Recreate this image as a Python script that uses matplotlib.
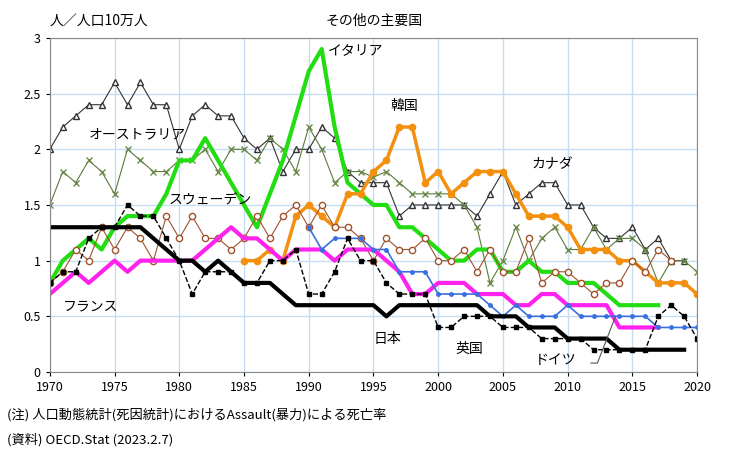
import numpy as np
import matplotlib.pyplot as plt

plt.rcParams['font.family'] = ['Noto Sans CJK JP', 'DejaVu Sans']

yrs = np.arange(1970, 2021)

canada = [2.0, 2.2, 2.3, 2.4, 2.4, 2.6, 2.4, 2.6, 2.4, 2.4, 2.0, 2.3, 2.4, 2.3, 2.3, 2.1, 2.0, 2.1, 1.8, 2.0,
          2.0, 2.2, 2.1, 1.8, 1.7, 1.7, 1.7, 1.4, 1.5, 1.5, 1.5, 1.5, 1.5, 1.4, 1.6, 1.8, 1.5, 1.6, 1.7, 1.7,
          1.5, 1.5, 1.3, 1.2, 1.2, 1.3, 1.1, 1.2, 1.0, 1.0]
australia = [1.5, 1.8, 1.7, 1.9, 1.8, 1.6, 2.0, 1.9, 1.8, 1.8, 1.9, 1.9, 2.0, 1.8, 2.0, 2.0, 1.9, 2.1, 2.0, 1.8,
             2.2, 2.0, 1.7, 1.8, 1.8, 1.75, 1.8, 1.7, 1.6, 1.6, 1.6, 1.6, 1.5, 1.3, 0.8, 1.0, 1.3, 1.0, 1.2, 1.3,
             1.1, 1.1, 1.3, 1.1, 1.2, 1.2, 1.1, 0.8, 1.0, 1.0, 0.9]
italy = [0.8, 1.0, 1.1, 1.2, 1.1, 1.3, 1.4, 1.4, 1.4, 1.6, 1.9, 1.9, 2.1, 1.9, 1.7, 1.5, 1.3, 1.6, 1.9, 2.3,
         2.7, 2.9, 2.2, 1.7, 1.6, 1.5, 1.5, 1.3, 1.3, 1.2, 1.1, 1.0, 1.0, 1.1, 1.1, 0.9, 0.9, 1.0, 0.9, 0.9,
         0.8, 0.8, 0.8, 0.7, 0.6, 0.6, 0.6, 0.6]
korea_yrs = np.arange(1985, 2021)
korea = [1.0, 1.0, 1.1, 1.0, 1.4, 1.5, 1.4, 1.3, 1.6, 1.6, 1.8, 1.9, 2.2, 2.2, 1.7, 1.8, 1.6, 1.7, 1.8, 1.8,
         1.8, 1.6, 1.4, 1.4, 1.4, 1.3, 1.1, 1.1, 1.1, 1.0, 1.0, 0.9, 0.8, 0.8, 0.8, 0.7]
sweden = [0.8, 0.9, 1.1, 1.0, 1.3, 1.1, 1.3, 1.2, 1.0, 1.4, 1.2, 1.4, 1.2, 1.2, 1.1, 1.2, 1.4, 1.2, 1.4, 1.5,
          1.3, 1.5, 1.3, 1.3, 1.2, 1.0, 1.2, 1.1, 1.1, 1.2, 1.0, 1.0, 1.1, 0.9, 1.1, 0.9, 0.9, 1.2, 0.8, 0.9,
          0.9, 0.8, 0.7, 0.8, 0.8, 1.0, 0.9, 1.1, 1.0]
france = [0.7, 0.8, 0.9, 0.8, 0.9, 1.0, 0.9, 1.0, 1.0, 1.0, 1.0, 1.0, 1.1, 1.2, 1.3, 1.2, 1.2, 1.1, 1.0, 1.1,
          1.1, 1.1, 1.0, 1.1, 1.1, 1.1, 1.0, 0.9, 0.7, 0.7, 0.8, 0.8, 0.8, 0.7, 0.7, 0.7, 0.6, 0.6, 0.7, 0.7,
          0.6, 0.6, 0.6, 0.6, 0.4, 0.4, 0.4, 0.4]
germany_yrs = np.arange(1990, 2021)
germany = [1.3, 1.1, 1.2, 1.2, 1.2, 1.1, 1.1, 0.9, 0.9, 0.9, 0.7, 0.7, 0.7, 0.7, 0.6, 0.5, 0.6, 0.5, 0.5, 0.5,
           0.6, 0.5, 0.5, 0.5, 0.5, 0.5, 0.5, 0.4, 0.4, 0.4, 0.4]
japan = [1.3, 1.3, 1.3, 1.3, 1.3, 1.3, 1.3, 1.3, 1.2, 1.1, 1.0, 1.0, 0.9, 1.0, 0.9, 0.8, 0.8, 0.8, 0.7, 0.6,
         0.6, 0.6, 0.6, 0.6, 0.6, 0.6, 0.5, 0.6, 0.6, 0.6, 0.6, 0.6, 0.6, 0.6, 0.5, 0.5, 0.5, 0.4, 0.4, 0.4,
         0.3, 0.3, 0.3, 0.3, 0.2, 0.2, 0.2, 0.2, 0.2, 0.2]
uk = [0.8, 0.9, 0.9, 1.2, 1.3, 1.3, 1.5, 1.4, 1.4, 1.2, 1.0, 0.7, 0.9, 0.9, 0.9, 0.8, 0.8, 1.0, 1.0, 1.1,
      0.7, 0.7, 0.9, 1.2, 1.0, 1.0, 0.8, 0.7, 0.7, 0.7, 0.4, 0.4, 0.5, 0.5, 0.5, 0.4, 0.4, 0.4, 0.3, 0.3,
      0.3, 0.3, 0.2, 0.2, 0.2, 0.2, 0.2, 0.5, 0.6, 0.5, 0.3]

fig = plt.figure(figsize=(7.33, 4.57), dpi=100)
ax = fig.add_axes([0.068, 0.186, 0.883, 0.731])

def yr(vals, start=1970):
    return np.arange(start, start + len(vals))

ax.plot(yr(canada), canada, color='#333333', lw=0.8, marker='^', ms=4.5, mfc='white', mec='#333333')
ax.plot(yr(australia), australia, color='#5a7a3a', lw=0.8, marker='x', ms=4.5, mec='#6a8a4a')
ax.plot(yr(italy), italy, color='#22dd11', lw=3)
ax.plot(korea_yrs, korea, color='#f39010', lw=2.5, marker='o', ms=4.5)
ax.plot(yr(sweden), sweden, color='#a0522d', lw=0.8, marker='o', ms=4.5, mfc='white', mec='#a0522d')
ax.plot(yr(france), france, color='#ff22ee', lw=3)
ax.plot(germany_yrs, germany, color='#3a6fe0', lw=1.2, marker='o', ms=2.5)
ax.plot(yr(japan), japan, color='black', lw=3)
ax.plot(yr(uk), uk, color='black', lw=1, ls='--', marker='s', ms=3)

ax.set_xlim(1970, 2020)
ax.set_ylim(0, 3)
ax.set_xticks(range(1970, 2021, 5))
ax.set_yticks(np.arange(0, 3.01, 0.5))
ax.set_yticklabels(['0', '0.5', '1', '1.5', '2', '2.5', '3'])
ax.grid(True, color='#c6dcf2', lw=1)
ax.set_axisbelow(True)
ax.tick_params(labelsize=9, length=3)
for s in ax.spines.values():
    s.set_color('#888888')

fs = 10
ax.text(1991.5, 2.85, 'イタリア', fontsize=fs)
ax.text(1996.3, 2.35, '韓国', fontsize=fs)
ax.text(2007.2, 1.83, 'カナダ', fontsize=fs)
ax.text(1973, 2.1, 'オーストラリア', fontsize=fs)
ax.text(1979.2, 1.5, 'スウェーデン', fontsize=fs)
ax.text(1971, 0.55, 'フランス', fontsize=fs)
ax.text(1995, 0.26, '日本', fontsize=fs)
ax.text(2001.3, 0.17, '英国', fontsize=fs)
ax.text(2007.5, 0.07, 'ドイツ', fontsize=fs)
ax.plot([2011.8, 2012.3, 2013.7], [0.08, 0.08, 0.5], color='#555555', lw=0.8)

fig.text(0.068, 0.945, '人／人口10万人', fontsize=10, ha='left')
fig.text(0.51, 0.945, 'その他の主要国', fontsize=10, ha='center')
fig.text(0.01, 0.085, '(注) 人口動態統計(死因統計)におけるAssault(暴力)による死亡率', fontsize=9.5)
fig.text(0.01, 0.03, '(資料) OECD.Stat (2023.2.7)', fontsize=9.5)

fig.savefig('out.png', dpi=100)
